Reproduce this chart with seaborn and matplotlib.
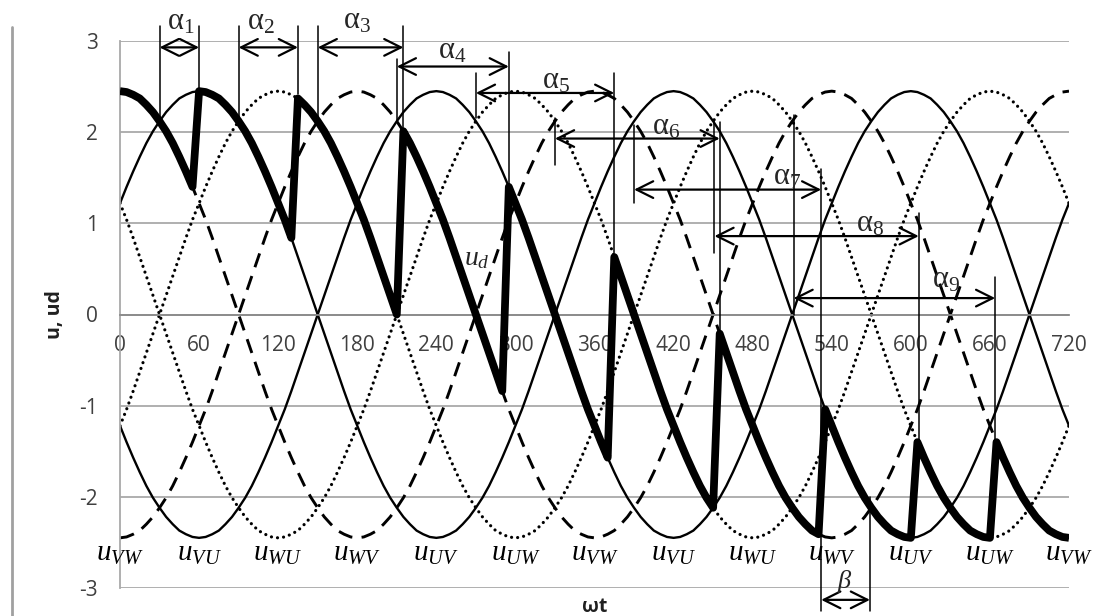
import numpy as np
import pandas as pd
import matplotlib
matplotlib.use("Agg")
import matplotlib.pyplot as plt
import seaborn as sns
from matplotlib.lines import Line2D

# ------------------------------------------------------------------ data
# one line-to-line voltage from its trough to its peak, every 5 degrees (0..180)
wave_rise = [-2.45, -2.44, -2.41, -2.37, -2.30, -2.22, -2.12, -2.01, -1.88,
             -1.73, -1.57, -1.40, -1.22, -1.04, -0.84, -0.63, -0.42, -0.21,
             0.00, 0.21, 0.42, 0.63, 0.84, 1.04, 1.22, 1.40, 1.57, 1.73,
             1.88, 2.01, 2.12, 2.22, 2.30, 2.37, 2.41, 2.44, 2.45]
step_deg = 5
x_max = 720

# the six line voltages: position of their trough (deg) and line style
curve_names = ["VW", "VU", "WU", "WV", "UV", "UW"]
curve_trough = [0, 60, 120, 180, 240, 300]
curve_style = ["dashed", "solid", "dotted", "dashed", "solid", "dotted"]

# rectified voltage ud: which line voltage it follows, and over which interval
ud_curve = ["WV", "UV", "UW", "VW", "VU", "WU", "WV", "UV", "UW", "VW"]
ud_start = [0, 60, 135, 215, 295, 375, 455, 535, 605, 665]
ud_end = [55, 130, 210, 290, 370, 450, 530, 600, 660, 720]

xticks = list(range(0, 721, 60))
yticks = [-3, -2, -1, 0, 1, 2, 3]
bottom_labels = ["VW", "VU", "WU", "WV", "UV", "UW", "VW",
                 "VU", "WU", "WV", "UV", "UW", "VW"]

# firing-angle annotations (alpha_1 .. alpha_9)
alpha_left_x = [30, 90, 150, 210, 270, 330, 390, 451, 511]
alpha_right_x = [60, 135, 215, 295, 375, 455, 532, 606, 664]
# ------------------------------------------------------------------ layout of annotations
alpha_arrow_y = [2.93, 2.93, 2.93, 2.72, 2.43, 1.93, 1.37, 0.86, 0.18]
alpha_left_top = [3.16, 3.16, 3.16, 2.80, 2.65, 2.16, 2.08, 2.13, 2.19]
alpha_left_bot = [2.10, 2.10, 2.15, 2.13, 2.16, 1.64, 1.22, 0.68, 0.00]
alpha_right_top = [3.16, 3.16, 3.16, 2.88, 2.65, 2.11, 1.60, 1.11, 0.41]
alpha_right_bot = [2.48, 2.42, 2.00, 1.42, 0.67, -0.18, -3.25, -1.40, -1.40]
alpha_label_x = [46, 107, 180, 252, 331, 414, 506, 569, 627]
alpha_label_y = [3.21, 3.21, 3.22, 2.90, 2.57, 2.06, 1.51, 1.00, 0.38]

# ------------------------------------------------------------------ build series
period = wave_rise + wave_rise[-2:0:-1]          # one full period, 72 samples
n_per = len(period)
x = np.arange(0, x_max + step_deg, step_deg)


def line_voltage(trough):
    idx = ((x - trough) // step_deg) % n_per
    return np.array(period)[idx]


curves = {name: line_voltage(t) for name, t in zip(curve_names, curve_trough)}

ud_x, ud_y = [], []
for name, a, b in zip(ud_curve, ud_start, ud_end):
    m = (x >= a) & (x <= b)
    ud_x.extend(x[m])
    ud_y.extend(curves[name][m])
df_ud = pd.DataFrame({"wt": ud_x, "ud": ud_y})

# ------------------------------------------------------------------ style
sns.set_theme(style="white")
plt.rcParams["font.family"] = ["Open Sans", "DejaVu Sans"]
plt.rcParams["mathtext.fontset"] = "custom"
plt.rcParams["mathtext.rm"] = "Liberation Serif"
plt.rcParams["mathtext.it"] = "Liberation Serif:italic"
plt.rcParams["mathtext.bf"] = "Liberation Serif:bold"

fig = plt.figure(figsize=(10.99, 6.16), dpi=100)
ax = fig.add_axes([120 / 1099, 1 - 588 / 616, 949 / 1099, 547 / 616])

styles = {
    "solid": dict(linestyle="-", linewidth=1.7),
    "dashed": dict(linestyle=(0, (5, 3.2)), linewidth=2.1),
    "dotted": dict(linestyle=(0, (0.01, 1.9)), linewidth=2.3,
                   dash_capstyle="round"),
}
for name, st in zip(curve_names, curve_style):
    df = pd.DataFrame({"wt": x, "u": curves[name]})
    sns.lineplot(data=df, x="wt", y="u", ax=ax, color="black",
                 estimator=None, sort=False, zorder=2, **styles[st])

sns.lineplot(data=df_ud, x="wt", y="ud", ax=ax, color="black", linewidth=5.6,
             estimator=None, sort=False, zorder=3,
             solid_joinstyle="round", solid_capstyle="butt")

# axes
ax.set_xlim(0, 720)
ax.set_ylim(-3, 3)
ax.set_xticks(xticks)
ax.set_yticks(yticks)
ax.set_xticklabels([str(v) for v in xticks])
ax.set_yticklabels([str(v) for v in yticks])
ax.set_axisbelow(True)
ax.grid(axis="y", color="#a9a9a9", linewidth=1.3)
ax.grid(axis="x", visible=False)
for s in ["top", "right"]:
    ax.spines[s].set_visible(False)
ax.spines["bottom"].set_position(("data", 0))
ax.spines["bottom"].set_color("#8a8a8a")
ax.spines["bottom"].set_linewidth(1.3)
ax.spines["left"].set_color("#a9a9a9")
ax.spines["left"].set_linewidth(1.3)
ax.tick_params(axis="both", length=0, labelsize=15, labelcolor="#404040")
ax.tick_params(axis="y", pad=16)
ax.tick_params(axis="x", pad=15)

ax.set_ylabel("u, ud", fontsize=14, fontweight="bold", color="#202020",
              va="center")
ax.yaxis.set_label_coords(-0.0685, 0.5)
ax.set_xlabel("ωt", fontsize=14, fontweight="bold", color="#202020",
              va="center")
ax.xaxis.set_label_coords(0.5, -0.035)

# line-voltage names under the troughs
for xv, lab in zip(xticks, bottom_labels):
    ax.text(xv, -2.70, rf"$u_{{{lab}}}$", fontsize=21, ha="center",
            va="baseline", color="black", clip_on=False, zorder=5)

ax.text(271, 0.62, r"$u_d$", fontsize=20, ha="center", va="center",
        zorder=5)

# alpha annotations
ann_kw = dict(color="black", linewidth=1.1, clip_on=False, zorder=4)
arrow_props = dict(arrowstyle="<->,head_length=0.6,head_width=0.3",
                   mutation_scale=20, lw=1.6, color="black",
                   shrinkA=0, shrinkB=0)
for i in range(9):
    ax.plot([alpha_left_x[i]] * 2, [alpha_left_top[i], alpha_left_bot[i]],
            **ann_kw)
    ax.plot([alpha_right_x[i]] * 2, [alpha_right_top[i], alpha_right_bot[i]],
            **ann_kw)
    ax.annotate("", xy=(alpha_right_x[i], alpha_arrow_y[i]),
                xytext=(alpha_left_x[i], alpha_arrow_y[i]),
                arrowprops=arrow_props, annotation_clip=False, zorder=4)
    ax.text(alpha_label_x[i], alpha_label_y[i],
            rf"$\mathrm{{\alpha}}_{{{i + 1}}}$", fontsize=22, ha="center",
            va="center", clip_on=False, zorder=5)

# beta annotation
beta_x = [532, 569]
ax.plot([beta_x[1]] * 2, [-2.0, -3.25], **ann_kw)
ax.annotate("", xy=(beta_x[1], -3.13), xytext=(beta_x[0], -3.13),
            arrowprops=arrow_props, annotation_clip=False, zorder=4)
ax.text(549.5, -2.93, r"$\beta$", fontsize=19, ha="center", va="center",
        clip_on=False, zorder=5)

# left frame line of the chart area
fig.add_artist(Line2D([12 / 1099] * 2, [0, 1 - 27 / 616],
                      transform=fig.transFigure, color="#a0a0a0",
                      linewidth=2))

fig.savefig("out.png", dpi=100)
